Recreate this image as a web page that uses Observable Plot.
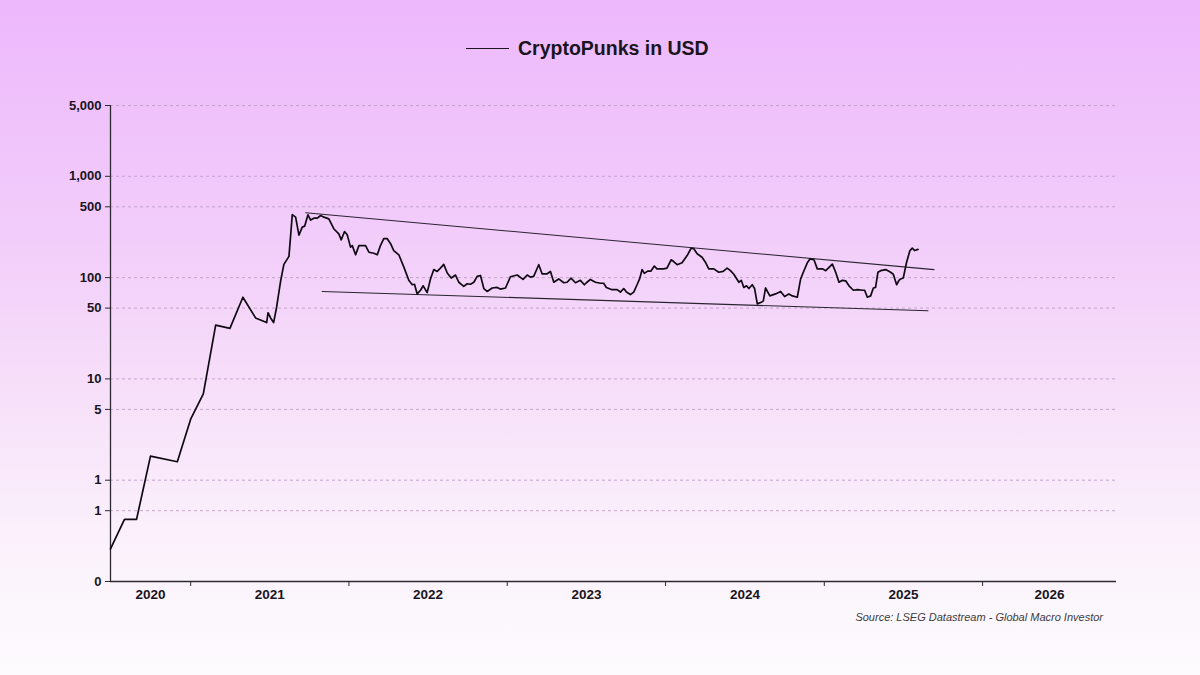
<!DOCTYPE html>
<html>
<head>
<meta charset="utf-8">
<script src="https://cdn.jsdelivr.net/npm/d3@7"></script>
<script src="https://cdn.jsdelivr.net/npm/@observablehq/plot@0.6"></script>
<style>
  html, body { margin: 0; padding: 0; }
  body {
    width: 1200px; height: 675px; overflow: hidden; position: relative;
    background: linear-gradient(180deg, #edb8fc 0%, #f2cdfa 35%, #f6ddf9 55%, #fbf1fc 80%, #fdfbfe 100%);
    font-family: "Liberation Sans", Arial, Helvetica, sans-serif;
  }
  #chart { position: absolute; left: 0; top: 0; }
  #title {
    position: absolute; left: 466px; top: 36px; height: 24px;
    display: flex; align-items: center; white-space: nowrap;
  }
  #title .swatch { width: 43px; height: 0; border-top: 1.6px solid #1a1420; margin-right: 9px; }
  #title .txt { font-size: 19.5px; font-weight: bold; color: #1a1420; }
  #source {
    position: absolute; right: 97px; top: 611px;
    font-size: 11px; font-style: italic; color: #3c3c3c; white-space: nowrap;
  }
</style>
</head>
<body>
<div id="chart"></div>
<div id="title"><span class="swatch"></span><span class="txt">CryptoPunks in USD</span></div>
<div id="source">Source: LSEG Datastream - Global Macro Investor</div>
<script>
// ---- data (decimal years) ----
const years = [
  2020.495, 2020.583, 2020.659, 2020.747, 2020.916, 2021.000, 2021.080, 2021.158, 2021.248, 2021.330,
  2021.410, 2021.480, 2021.489, 2021.505, 2021.524, 2021.543, 2021.568, 2021.589, 2021.621, 2021.642,
  2021.663, 2021.684, 2021.705, 2021.720, 2021.741, 2021.758, 2021.778, 2021.800, 2021.821, 2021.842,
  2021.873, 2021.905, 2021.936, 2021.951, 2021.972, 2021.989, 2022.010, 2022.021, 2022.042, 2022.063,
  2022.105, 2022.126, 2022.157, 2022.179, 2022.199, 2022.220, 2022.242, 2022.263, 2022.283, 2022.315,
  2022.347, 2022.378, 2022.400, 2022.414, 2022.431, 2022.452, 2022.469, 2022.494, 2022.515, 2022.536,
  2022.557, 2022.578, 2022.599, 2022.621, 2022.646, 2022.673, 2022.694, 2022.725, 2022.747, 2022.768,
  2022.789, 2022.810, 2022.831, 2022.852, 2022.873, 2022.905, 2022.936, 2022.957, 2022.989, 2023.020,
  2023.063, 2023.100, 2023.126, 2023.146, 2023.167, 2023.199, 2023.220, 2023.252, 2023.273, 2023.294,
  2023.325, 2023.357, 2023.378, 2023.403, 2023.431, 2023.462, 2023.487, 2023.504, 2023.525, 2023.557,
  2023.588, 2023.609, 2023.626, 2023.662, 2023.694, 2023.715, 2023.736, 2023.753, 2023.778, 2023.799,
  2023.820, 2023.836, 2023.852, 2023.866, 2023.887, 2023.908, 2023.929, 2023.946, 2023.988, 2024.009,
  2024.035, 2024.051, 2024.073, 2024.104, 2024.136, 2024.161, 2024.178, 2024.199, 2024.230, 2024.251,
  2024.272, 2024.304, 2024.335, 2024.363, 2024.388, 2024.409, 2024.430, 2024.462, 2024.477, 2024.493,
  2024.510, 2024.525, 2024.546, 2024.561, 2024.578, 2024.603, 2024.616, 2024.630, 2024.657, 2024.693,
  2024.725, 2024.750, 2024.777, 2024.799, 2024.830, 2024.851, 2024.868, 2024.893, 2024.910, 2024.935,
  2024.956, 2024.988, 2025.009, 2025.030, 2025.051, 2025.072, 2025.093, 2025.114, 2025.135, 2025.156,
  2025.184, 2025.209, 2025.241, 2025.255, 2025.272, 2025.293, 2025.310, 2025.324, 2025.339, 2025.356,
  2025.388, 2025.419, 2025.436, 2025.457, 2025.472, 2025.482, 2025.499, 2025.520, 2025.541, 2025.556,
  2025.571, 2025.592
];
const punksUSD = [
  0.21, 0.41, 0.41, 1.73, 1.52, 4.0, 7.1, 34, 31.5, 64,
  40, 36, 45, 40, 36, 51, 92, 135, 162, 418,
  395, 263, 315, 322, 417, 370, 386, 386, 410, 395,
  380, 302, 270, 236, 285, 265, 200, 207, 168, 207,
  207, 178, 174, 168, 207, 242, 242, 216, 185, 168,
  127, 94, 85, 86, 69, 75, 83, 71, 97, 120,
  115, 124, 135, 111, 99, 106, 90, 82, 87, 86,
  90, 103, 105, 78, 73, 79, 80, 77, 79, 102,
  106, 96, 106, 101, 103, 134, 109, 109, 115, 90,
  97, 89, 90, 99, 89, 94, 85, 90, 96, 90,
  88, 88, 80, 76, 76, 72, 78, 72, 68, 72,
  85, 97, 120, 110, 116, 116, 130, 122, 122, 124,
  150, 144, 134, 140, 165, 195, 193, 172, 159, 142,
  122, 122, 113, 115, 124, 117, 108, 90, 94, 80,
  83, 78, 85, 78, 55, 57, 59, 79, 66, 69,
  73, 65, 69, 66, 64, 97, 113, 140, 153, 150,
  122, 122, 117, 126, 136, 113, 90, 94, 93, 83,
  75, 76, 75, 75, 64, 66, 79, 80, 113, 117,
  120, 113, 108, 85, 94, 97, 99, 142, 185, 195,
  185, 190
];
// trend lines (start/end)
const upperTrendYears = [2021.726, 2025.693];
const upperTrendValues = [437, 120];
const lowerTrendYears = [2021.831, 2025.655];
const lowerTrendValues = [73, 47];

// axes
const xDomainYears = [2020.495, 2026.846];
const yearTickYears = [2021, 2022, 2023, 2024, 2025, 2026];
const yearLabels = [2020, 2021, 2022, 2023, 2024, 2025, 2026];
const yTicks = [5000, 1000, 500, 100, 50, 10, 5, 1, 0.5, 0.1];
const yTickLabels = ["5,000", "1,000", "500", "100", "50", "10", "5", "1", "1", "0"];

// ---- helpers ----
const toDate = t => {
  const y = Math.floor(t);
  const s = Date.UTC(y, 0, 1), e = Date.UTC(y + 1, 0, 1);
  return new Date(s + (t - y) * (e - s));
};
const xStart = toDate(xDomainYears[0]);
const xEnd = toDate(xDomainYears[1]);

const series = years.map((t, i) => ({date: toDate(t), value: punksUSD[i]}));
const upper = upperTrendYears.map((t, i) => ({date: toDate(t), value: upperTrendValues[i]}));
const lower = lowerTrendYears.map((t, i) => ({date: toDate(t), value: lowerTrendValues[i]}));
const yearTicks = yearTickYears.map(y => new Date(Date.UTC(y, 0, 1)));
const labelData = yearLabels.map(y => {
  const a = Math.max(Date.UTC(y, 0, 1), +xStart);
  const b = Math.min(Date.UTC(y + 1, 0, 1), +xEnd);
  return {date: new Date((a + b) / 2), label: String(y)};
});
const yLabelData = yTicks.map((v, i) => ({value: v, label: yTickLabels[i]}));

const axisColor = "#2e2833";

const plot = Plot.plot({
  width: 1200,
  height: 675,
  marginTop: 105,
  marginBottom: 94,
  marginLeft: 110,
  marginRight: 84,
  style: {background: "transparent", fontFamily: "'Liberation Sans', Arial, Helvetica, sans-serif", overflow: "visible"},
  x: {type: "utc", domain: [xStart, xEnd]},
  y: {type: "log", domain: [0.1, 5000]},
  marks: [
    Plot.ruleY(yTicks.filter(d => d !== 0.1), {stroke: "#bf9fc6", strokeDasharray: "3,3", strokeWidth: 0.9}),
    Plot.axisY({
      ticks: yTicks,
      tickFormat: () => "",
      tickSize: 5,
      color: axisColor, label: null
    }),
    Plot.text(yLabelData, {
      y: "value", text: "label", frameAnchor: "left", dx: -9, textAnchor: "end",
      fontSize: 13, fontWeight: "bold", fill: "#1a1420"
    }),
    Plot.axisX({
      ticks: yearTicks,
      tickFormat: () => "",
      tickSize: 5,
      color: axisColor, label: null
    }),
    Plot.text(labelData, {
      x: "date", text: "label", frameAnchor: "bottom", dy: 17,
      fontSize: 13.5, fontWeight: "bold", fill: "#1a1420"
    }),
    Plot.ruleY([0.1], {stroke: axisColor, strokeWidth: 1.3}),
    Plot.ruleX([xStart], {stroke: axisColor, strokeWidth: 1.3}),
    Plot.line(upper, {x: "date", y: "value", stroke: "#2a2430", strokeWidth: 1.1}),
    Plot.line(lower, {x: "date", y: "value", stroke: "#2a2430", strokeWidth: 1.1}),
    Plot.line(series, {x: "date", y: "value", stroke: "#0f0a12", strokeWidth: 1.7, curve: "linear"})
  ]
});
document.getElementById("chart").appendChild(plot);
</script>
</body>
</html>
